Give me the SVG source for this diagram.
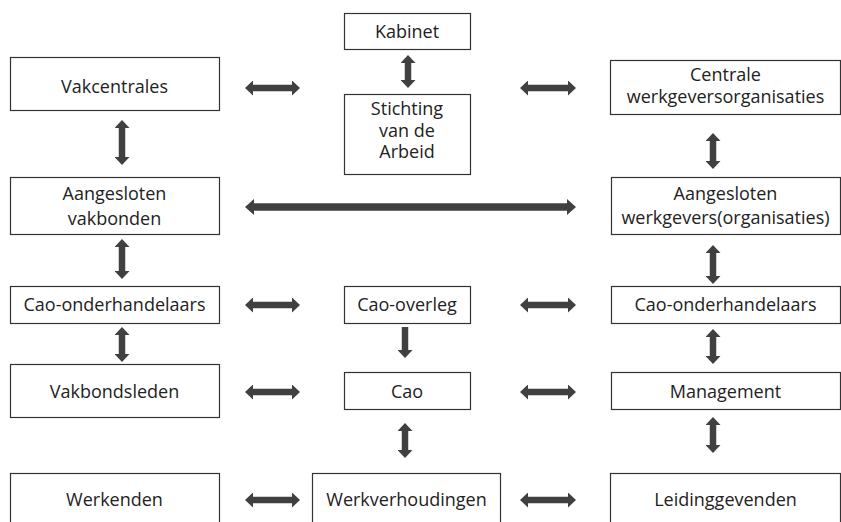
<svg xmlns="http://www.w3.org/2000/svg" width="841" height="522" viewBox="0 0 841 522">
<style>
.box rect{fill:#fff;stroke:#333;stroke-width:1.2}
.box text{font-family:"Open Sans","Noto Sans",sans-serif;font-size:18px;fill:#222;text-anchor:middle}
.c line{stroke:#404040;stroke-width:6.5}
.c line.thick{stroke-width:7.5}
</style>
<defs>
<marker id="ah" markerUnits="userSpaceOnUse" markerWidth="9" markerHeight="15" refX="1" refY="7.5" orient="auto-start-reverse" viewBox="0 0 9 15">
<path d="M0,0 L8,7.5 L0,15 z" fill="#404040"/>
</marker>
<marker id="ahb" markerUnits="userSpaceOnUse" markerWidth="10" markerHeight="16" refX="1" refY="8" orient="auto-start-reverse" viewBox="0 0 10 16">
<path d="M0,0 L9,8 L0,16 z" fill="#404040"/>
</marker>
</defs>
<rect width="841" height="522" fill="#fff"/>
<g class="c" id="connectors">
<line x1="252" y1="88" x2="293" y2="88" marker-start="url(#ah)" marker-end="url(#ah)"/>
<line x1="527" y1="88" x2="569" y2="88" marker-start="url(#ah)" marker-end="url(#ah)"/>
<line x1="408" y1="62" x2="408" y2="81" marker-start="url(#ah)" marker-end="url(#ah)"/>
<line x1="122" y1="127" x2="122" y2="158" marker-start="url(#ah)" marker-end="url(#ah)"/>
<line x1="713" y1="140" x2="713" y2="162" marker-start="url(#ah)" marker-end="url(#ah)"/>
<line class="thick" x1="253" y1="207" x2="568" y2="207" marker-start="url(#ahb)" marker-end="url(#ahb)"/>
<line x1="122" y1="246" x2="122" y2="272" marker-start="url(#ah)" marker-end="url(#ah)"/>
<line x1="713" y1="252" x2="713" y2="277" marker-start="url(#ah)" marker-end="url(#ah)"/>
<line x1="252" y1="305" x2="293" y2="305" marker-start="url(#ah)" marker-end="url(#ah)"/>
<line x1="527" y1="305" x2="569" y2="305" marker-start="url(#ah)" marker-end="url(#ah)"/>
<line x1="122" y1="334" x2="122" y2="355" marker-start="url(#ah)" marker-end="url(#ah)"/>
<line x1="405" y1="327" x2="405" y2="351" marker-end="url(#ah)"/>
<line x1="713" y1="336" x2="713" y2="357" marker-start="url(#ah)" marker-end="url(#ah)"/>
<line x1="252" y1="392" x2="293" y2="392" marker-start="url(#ah)" marker-end="url(#ah)"/>
<line x1="527" y1="392" x2="569" y2="392" marker-start="url(#ah)" marker-end="url(#ah)"/>
<line x1="405" y1="430" x2="405" y2="451" marker-start="url(#ah)" marker-end="url(#ah)"/>
<line x1="713" y1="424" x2="713" y2="446" marker-start="url(#ah)" marker-end="url(#ah)"/>
<line x1="252" y1="500" x2="293" y2="500" marker-start="url(#ah)" marker-end="url(#ah)"/>
<line x1="527" y1="500" x2="569" y2="500" marker-start="url(#ah)" marker-end="url(#ah)"/>
</g>
<g class="box" id="kabinet"><rect x="344.5" y="13.5" width="126" height="36"/><text x="407" y="38">Kabinet</text></g>
<g class="box" id="stichting"><rect x="344.5" y="94.5" width="126" height="80"/><text x="407" y="115">Stichting</text><text x="407" y="137">van de</text><text x="407" y="158">Arbeid</text></g>
<g class="box" id="vakcentrales"><rect x="10.5" y="57.5" width="209" height="53"/><text x="114.5" y="93">Vakcentrales</text></g>
<g class="box" id="centrale-werkgevers"><rect x="610.5" y="60.5" width="230" height="54"/><text x="725.5" y="81">Centrale</text><text x="725.5" y="103">werkgeversorganisaties</text></g>
<g class="box" id="aangesloten-vakbonden"><rect x="10.5" y="177.5" width="209" height="57"/><text x="114.5" y="200">Aangesloten</text><text x="114.5" y="225">vakbonden</text></g>
<g class="box" id="aangesloten-werkgevers"><rect x="611.5" y="177.5" width="229" height="57"/><text x="725.5" y="200">Aangesloten</text><text x="725.5" y="224">werkgevers(organisaties)</text></g>
<g class="box" id="cao-ond-links"><rect x="10.5" y="286.5" width="209" height="37"/><text x="114.5" y="311">Cao-onderhandelaars</text></g>
<g class="box" id="cao-overleg"><rect x="344.5" y="286.5" width="126" height="37"/><text x="407" y="311">Cao-overleg</text></g>
<g class="box" id="cao-ond-rechts"><rect x="611.5" y="286.5" width="229" height="37"/><text x="725.5" y="311">Cao-onderhandelaars</text></g>
<g class="box" id="vakbondsleden"><rect x="10.5" y="364.5" width="209" height="53"/><text x="114.5" y="398">Vakbondsleden</text></g>
<g class="box" id="cao"><rect x="344.5" y="372.5" width="126" height="37"/><text x="407" y="398">Cao</text></g>
<g class="box" id="management"><rect x="611.5" y="372.5" width="229" height="37"/><text x="725.5" y="398">Management</text></g>
<g class="box" id="werkenden"><rect x="10.5" y="473.5" width="209" height="60"/><text x="114.5" y="506">Werkenden</text></g>
<g class="box" id="werkverhoudingen"><rect x="312.5" y="473.5" width="188" height="60"/><text x="406.5" y="506">Werkverhoudingen</text></g>
<g class="box" id="leidinggevenden"><rect x="610.5" y="473.5" width="230" height="60"/><text x="725.5" y="506">Leidinggevenden</text></g>
</svg>
